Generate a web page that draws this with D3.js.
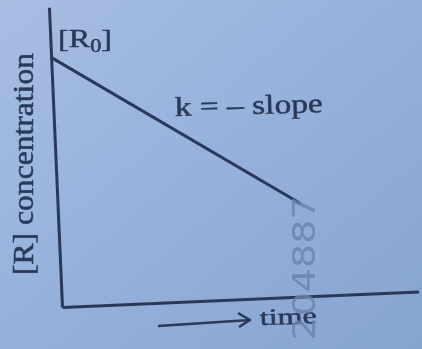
<!DOCTYPE html>
<html>
<head>
<meta charset="utf-8">
<script src="https://cdn.jsdelivr.net/npm/d3@7"></script>
<style>
  html, body { margin: 0; padding: 0; }
  svg { display: block; }
</style>
</head>
<body>
<svg width="422" height="349"></svg>
<script>
// zero order plot: [R] falls linearly with time
const times = [0, 6.8];
const conc = [8.33, 3.1];
const xDomain = [0, 10];
const yDomain = [0, 10];

const ink = "#2a395a";
const svg = d3.select("svg");

// photo background
const defs = svg.append("defs");
const grad = defs.append("linearGradient")
  .attr("id", "bg")
  .attr("x1", 0).attr("y1", 0).attr("x2", 1).attr("y2", 1);
grad.append("stop").attr("offset", "0%").attr("stop-color", "#a7bee3");
grad.append("stop").attr("offset", "55%").attr("stop-color", "#93afda");
grad.append("stop").attr("offset", "100%").attr("stop-color", "#87a3cf");
defs.append("filter").attr("id", "soft")
  .append("feGaussianBlur").attr("stdDeviation", 0.6);

svg.append("rect")
  .attr("width", 422).attr("height", 349)
  .attr("fill", "url(#bg)");

const root = svg.append("g").attr("filter", "url(#soft)");

// the page is photographed a bit tilted
const plot = root.append("g")
  .attr("transform", "translate(62,307) rotate(-2.5)");

const x = d3.scaleLinear().domain(xDomain).range([0, 357]);
const y = d3.scaleLinear().domain(yDomain).range([0, -300]);

const xAxis = plot.append("g").call(d3.axisBottom(x).ticks(0).tickSizeOuter(0));
const yAxis = plot.append("g").call(d3.axisLeft(y).ticks(0).tickSizeOuter(0));
[xAxis, yAxis].forEach(a => {
  a.select(".domain").attr("stroke", ink).attr("stroke-width", 3);
});

const pts = times.map((t, i) => ({ t: t, c: conc[i] }));
plot.append("path")
  .datum(pts)
  .attr("fill", "none")
  .attr("stroke", ink)
  .attr("stroke-width", 3)
  .attr("d", d3.line().x(d => x(d.t)).y(d => y(d.c)));

// labels
const serif = "'Liberation Serif', 'DejaVu Serif', serif";

function inked(t) {
  return t.attr("font-family", serif)
    .attr("fill", ink)
    .attr("stroke", ink)
    .attr("stroke-width", 0.5)
    .attr("lengthAdjust", "spacingAndGlyphs");
}

const r0 = inked(root.append("text"))
  .attr("x", 58).attr("y", 47)
  .attr("font-size", 26)
  .attr("textLength", 54);
r0.append("tspan").text("[R");
r0.append("tspan").attr("font-size", 18).attr("dy", 5).text("0");
r0.append("tspan").attr("dy", -5).text("]");

inked(root.append("text"))
  .attr("x", 175).attr("y", 116)
  .attr("font-size", 27)
  .attr("textLength", 148)
  .attr("transform", "rotate(-1.5,175,116)")
  .text("k = \u2013 slope");

inked(root.append("text"))
  .attr("transform", "translate(33,164) rotate(-90)")
  .attr("text-anchor", "middle")
  .attr("font-size", 29)
  .attr("textLength", 222)
  .text("[R] concentration");

inked(root.append("text"))
  .attr("x", 260).attr("y", 325)
  .attr("font-size", 23)
  .attr("textLength", 57)
  .attr("transform", "rotate(-2,260,325)")
  .text("time");

// arrow under the axis
root.append("path")
  .attr("d", "M158,326 L250,320 M238,313 L250,320 L239,327")
  .attr("fill", "none")
  .attr("stroke", ink)
  .attr("stroke-width", 2.6)
  .attr("stroke-linejoin", "round");

// watermark
root.append("text")
  .attr("transform", "translate(315,268) rotate(-90)")
  .attr("text-anchor", "middle")
  .attr("font-family", "'DejaVu Sans', sans-serif")
  .attr("font-size", 32)
  .attr("fill", "#6c82ab")
  .attr("fill-opacity", 0.8)
  .attr("textLength", 145)
  .attr("lengthAdjust", "spacingAndGlyphs")
  .text("204887");
</script>
</body>
</html>
